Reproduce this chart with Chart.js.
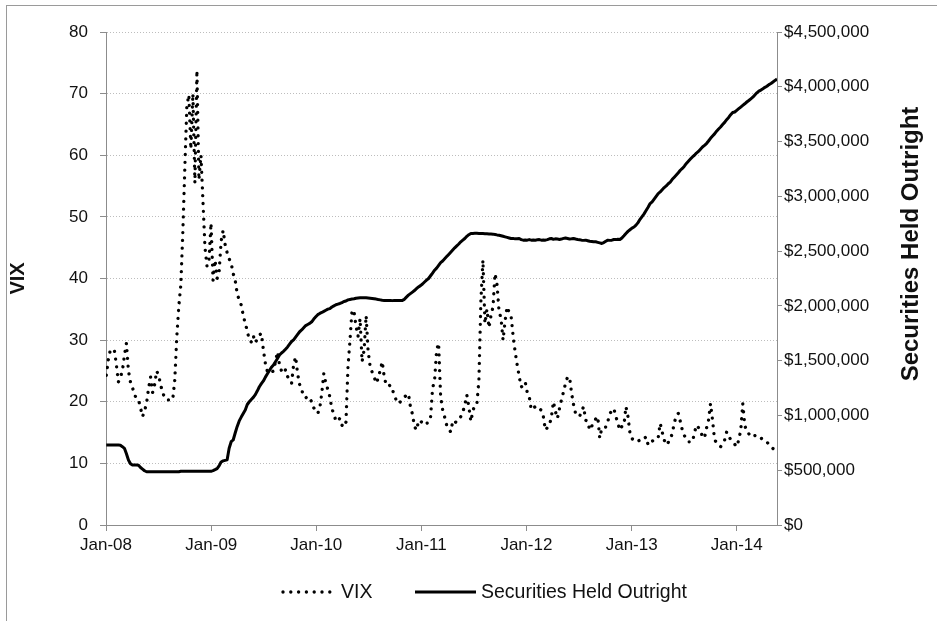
<!DOCTYPE html>
<html>
<head>
<meta charset="utf-8">
<script src="https://cdn.jsdelivr.net/npm/chart.js@4.4.1/dist/chart.umd.min.js"></script>
<style>
html,body{margin:0;padding:0;background:#fff;}
#wrap{position:relative;width:937px;height:621px;overflow:hidden;font-family:"Liberation Sans",Arial,sans-serif;background:#fff;}
#frame{position:absolute;left:6px;top:5px;width:960px;height:660px;border-left:1px solid #9a9a9a;border-top:1px solid #9a9a9a;}
#c{position:absolute;left:0;top:0;}
.lg{position:absolute;font-size:19.5px;color:#111;white-space:nowrap;line-height:22px;}
.lgsvg{position:absolute;}
</style>
</head>
<body>
<div id="wrap">
  <div id="frame"></div>
  <canvas id="c" width="937" height="621"></canvas>
  <svg class="lgsvg" style="left:278px;top:582px" width="60" height="20"><line x1="5" y1="10" x2="52" y2="10" stroke="#000" stroke-width="3.4" stroke-linecap="round" stroke-dasharray="0 7.8"/></svg>
  <span class="lg" id="lg0" style="left:341px;top:580px"></span>
  <svg class="lgsvg" style="left:412px;top:582px" width="70" height="20"><line x1="3" y1="10" x2="64" y2="10" stroke="#000" stroke-width="3"/></svg>
  <span class="lg" id="lg1" style="left:481px;top:580px"></span>
</div>
<script>
// ---- data (weekly, Wednesdays from 2 Jan 2008) ----
const seriesNames = ['VIX', 'Securities Held Outright'];
const axisTitles = ['VIX', 'Securities Held Outright'];
const tickLabels = ['Jan-08','Jan-09','Jan-10','Jan-11','Jan-12','Jan-13','Jan-14'];
const tickDays = [0, 366, 731, 1096, 1461, 1827, 2192]; // days since 1 Jan 2008
const firstWeekDay = 1;   // 2 Jan 2008
const weekStep = 7;

const vix = [
24.3,26.8,28.4,28.3,28.4,26.0,23.2,24.0,25.0,27.5,
29.5,25.0,23.2,22.3,21.2,20.5,20.3,19.0,17.6,18.5,
19.8,22.2,24.0,21.5,22.8,25.0,24.3,22.7,21.5,20.6,
20.3,20.3,20.2,20.4,23.5,30.5,35.5,38.9,47.5,58.0,
68.0,69.8,61.0,70.0,55.5,73.8,56.0,60.0,52.5,45.0,
42.0,43.0,49.0,39.7,43.0,40.0,41.0,46.0,47.8,45.5,
44.2,43.2,42.5,40.8,39.7,37.5,36.5,35.7,34.0,32.7,
31.5,30.0,29.7,30.7,29.6,30.2,30.8,31.1,28.4,26.2,
24.9,24.6,24.8,25.0,26.5,28.1,26.0,25.0,24.6,25.2,
24.1,23.5,23.0,26.0,27.3,24.5,22.8,21.9,21.0,20.6,
20.9,20.5,20.0,19.0,18.6,18.1,19.0,21.4,24.6,23.0,
22.0,20.8,18.8,18.1,16.8,17.0,17.3,16.2,15.9,16.7,
25.7,30.0,34.9,34.6,32.2,30.6,33.5,26.5,28.4,34.0,
28.2,25.7,24.8,24.0,23.0,23.8,25.1,26.5,24.0,22.7,
22.5,22.7,22.0,21.1,20.2,19.7,20.0,20.5,20.8,21.0,
21.3,19.2,18.0,16.0,15.4,16.8,16.5,17.0,16.8,16.5,
16.6,17.5,22.2,23.5,28.4,29.5,20.8,18.7,17.5,16.2,
15.6,15.1,16.8,16.5,16.9,17.0,17.6,18.3,19.5,21.1,
19.2,16.8,18.5,19.5,19.7,23.5,36.5,43.0,32.7,35.0,
32.0,34.0,35.4,40.8,39.0,34.7,33.5,30.0,33.1,35.4,
34.5,33.8,30.6,28.1,26.0,24.1,22.4,22.6,23.2,21.5,
20.8,18.7,19.0,19.2,18.8,18.9,18.6,17.6,15.4,15.8,
16.2,17.5,20.0,18.4,17.3,18.9,20.3,21.6,23.0,24.0,
24.0,21.4,19.5,18.1,17.8,17.6,18.5,19.2,17.0,16.8,
15.4,16.0,16.8,17.2,17.6,14.1,15.7,15.8,15.9,16.8,
18.1,18.5,18.9,17.6,16.5,15.4,16.0,16.2,19.2,17.6,
14.9,14.0,13.8,13.5,13.6,13.8,14.1,14.0,14.3,13.0,
13.5,13.6,13.8,14.0,14.1,16.5,15.1,13.8,13.0,13.4,
13.8,14.9,16.5,17.8,18.1,16.8,15.4,14.5,14.1,13.5,
13.5,13.5,14.9,16.2,15.8,15.4,14.3,14.1,15.7,17.0,
19.7,17.0,13.8,13.4,13.0,12.7,13.2,13.8,15.1,14.3,
13.9,13.5,13.1,12.7,13.8,15.4,19.7,16.2,15.1,14.8,
14.3,14.4,14.5,14.6,14.3,14.1,13.9,13.8,13.5,13.0,
12.7,12.4,12.2,12.0
];

// Securities held outright, $ billions (axis shows $ millions)
const securitiesBn = [
730,730,730,730,730,730,730,728,715,700,
650,593,560,548,548,548,545,525,510,495,
486,486,486,486,486,486,486,486,486,486,
486,486,486,486,486,486,486,490,490,490,
490,490,490,490,490,490,490,490,490,490,
490,490,490,496,505,515,540,575,585,590,
595,700,760,776,840,900,950,985,1018,1050,
1100,1125,1145,1165,1190,1225,1262,1290,1315,1350,
1380,1410,1440,1460,1490,1520,1551,1570,1585,1605,
1625,1650,1675,1690,1715,1740,1764,1780,1800,1820,
1830,1840,1855,1880,1900,1920,1931,1940,1950,1960,
1970,1975,1990,2000,2010,2016,2022,2030,2040,2045,
2055,2059,2062,2065,2070,2072,2074,2075,2075,2074,
2072,2070,2068,2065,2062,2058,2055,2052,2050,2050,
2049,2050,2048,2050,2050,2049,2050,2050,2060,2080,
2098,2112,2126,2140,2157,2173,2185,2200,2218,2235,
2250,2275,2300,2326,2345,2370,2395,2410,2430,2450,
2470,2490,2510,2530,2548,2565,2585,2600,2615,2635,
2650,2661,2661,2662,2662,2661,2661,2660,2659,2658,
2657,2656,2655,2652,2648,2645,2640,2635,2630,2625,
2620,2615,2616,2612,2612,2615,2605,2600,2602,2600,
2605,2600,2602,2600,2603,2605,2600,2602,2600,2605,
2612,2615,2608,2612,2610,2606,2610,2616,2620,2615,
2610,2612,2615,2610,2606,2604,2600,2598,2600,2595,
2590,2588,2585,2585,2580,2575,2570,2578,2590,2600,
2598,2600,2606,2605,2608,2606,2620,2640,2661,2680,
2695,2710,2720,2737,2760,2790,2815,2840,2870,2900,
2934,2950,2975,3000,3025,3040,3060,3080,3095,3115,
3130,3155,3175,3195,3215,3238,3255,3275,3300,3320,
3340,3360,3375,3395,3410,3430,3450,3465,3482,3505,
3530,3550,3570,3595,3615,3633,3655,3675,3700,3720,
3745,3765,3770,3785,3800,3815,3830,3845,3861,3875,
3890,3905,3925,3945,3960,3970,3982,3995,4005,4020,
4030,4044,4058,4070
];

// ---- build ----
const FONT = '"Liberation Sans", Arial, sans-serif';
const TXT = '#111';
const AXIS = '#8c8c8c';
const dayOf = i => firstWeekDay + weekStep * i;
const vixPts = vix.map((v, i) => ({x: dayOf(i), y: v}));
const secPts = securitiesBn.map((v, i) => ({x: dayOf(i), y: v * 1000}));
const lastDay = dayOf(vix.length - 1);

document.getElementById('lg0').textContent = seriesNames[0];
document.getElementById('lg1').textContent = seriesNames[1];

const rightTitle = {
  id: 'rightTitle',
  afterDraw(chart) {
    const s = chart.scales.y2;
    const ctx = chart.ctx;
    ctx.save();
    ctx.font = 'bold 24px ' + FONT;
    ctx.fillStyle = TXT;
    ctx.textAlign = 'center';
    ctx.textBaseline = 'middle';
    ctx.translate(s.right - 26, s.top + (s.bottom - s.top) * 0.43);
    ctx.rotate(-Math.PI / 2);
    ctx.fillText(axisTitles[1], 0, 0);
    ctx.restore();
  }
};

new Chart(document.getElementById('c'), {
  type: 'line',
  data: {
    datasets: [
      {label: seriesNames[0], data: vixPts, yAxisID: 'y', borderColor: '#000', borderWidth: 3.3,
       borderDash: [0.01, 7.8], borderCapStyle: 'round', pointRadius: 0, tension: 0, fill: false},
      {label: seriesNames[1], data: secPts, yAxisID: 'y2', borderColor: '#000', borderWidth: 3,
       borderJoinStyle: 'round', pointRadius: 0, tension: 0, fill: false}
    ]
  },
  options: {
    responsive: false,
    animation: false,
    events: [],
    layout: {padding: {top: 32, left: 0, right: 0, bottom: 0}},
    plugins: {legend: {display: false}, tooltip: {enabled: false}},
    scales: {
      x: {
        type: 'linear', position: 'bottom', min: 0, max: lastDay,
        afterBuildTicks: s => { s.ticks = tickDays.map(v => ({value: v})); },
        afterFit: s => { s.height = 96; },
        grid: {drawOnChartArea: false, drawTicks: true, tickLength: 6, color: AXIS, lineWidth: 1},
        border: {color: AXIS, width: 1},
        ticks: {autoSkip: false, maxRotation: 0, padding: 4, color: TXT, font: {family: FONT, size: 17},
                callback: (v, i) => tickLabels[i]}
      },
      y: {
        position: 'left', min: 0, max: 80,
        afterFit: s => { s.width = 106; },
        grid: {color: '#bdbdbd', lineWidth: 1, drawTicks: true, tickLength: 6, tickColor: AXIS},
        border: {color: AXIS, width: 1, dash: [1, 2]},
        ticks: {stepSize: 10, padding: 12, color: TXT, font: {family: FONT, size: 17}},
        title: {display: true, text: axisTitles[0], color: TXT, font: {family: FONT, size: 20, weight: 'bold'},
                padding: {top: 6, bottom: 0}}
      },
      y2: {
        position: 'right', min: 0, max: 4500000,
        afterFit: s => { s.width = 160; },
        grid: {drawOnChartArea: false, drawTicks: true, tickLength: 5, color: AXIS},
        border: {color: AXIS, width: 1},
        ticks: {stepSize: 500000, padding: 2, color: TXT, font: {family: FONT, size: 17},
                callback: v => '$' + Number(v).toLocaleString('en-US')}
      }
    }
  },
  plugins: [rightTitle]
});
</script>
</body>
</html>
